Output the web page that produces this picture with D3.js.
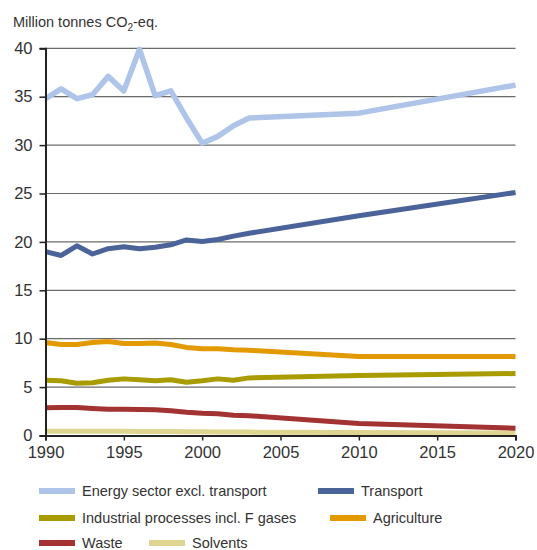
<!DOCTYPE html>
<html><head><meta charset="utf-8">
<script src="https://cdn.jsdelivr.net/npm/d3@7"></script>
<style>body{margin:0;background:#fff;} text{font-family:"Liberation Sans",Arial,sans-serif;fill:#333;}</style>
</head><body><svg id="c" width="537" height="550"></svg>
<script>
const years = [1990,1991,1992,1993,1994,1995,1996,1997,1998,1999,2000,2001,2002,2003,2010,2020];
const energy      = [34.8,35.8,34.8,35.2,37.1,35.6,39.9,35.1,35.6,32.8,30.2,30.9,32.0,32.8,33.3,36.2];
const transport   = [19.0,18.6,19.6,18.75,19.3,19.5,19.3,19.45,19.7,20.2,20.05,20.25,20.6,20.9,22.7,25.1];
const industrial  = [5.7,5.65,5.4,5.45,5.7,5.85,5.75,5.65,5.75,5.5,5.65,5.85,5.7,5.95,6.2,6.4];
const agriculture = [9.6,9.4,9.4,9.6,9.7,9.5,9.5,9.55,9.4,9.1,8.95,8.95,8.85,8.8,8.15,8.15];
const waste       = [2.87,2.9,2.9,2.8,2.7,2.7,2.68,2.65,2.55,2.4,2.3,2.25,2.1,2.05,1.25,0.75];
const solvents    = [0.45,0.45,0.45,0.44,0.43,0.43,0.42,0.42,0.41,0.4,0.38,0.37,0.36,0.35,0.3,0.25];
const seriesNames = ["Energy sector excl. transport","Transport","Industrial processes incl. F gases","Agriculture","Waste","Solvents"];
const seriesColors = ["#aec4e8","#4a6399","#a89c00","#e29a00","#a33232","#ded690"];
const yTicks = [0,5,10,15,20,25,30,35,40];
const xTicks = [1990,1995,2000,2005,2010,2015,2020];
const yLabel = "Million tonnes CO";

const seriesData = [energy,transport,industrial,agriculture,waste,solvents];
const svg = d3.select("#c");
const x = d3.scaleLinear().domain([1990,2020]).range([45.5,515.5]);
const y = d3.scaleLinear().domain([0,40]).range([435.5,48.3]);

// gridlines
svg.append("g").selectAll("line").data(yTicks.filter(d=>d>0)).join("line")
  .attr("x1",x(1990)).attr("x2",x(2020)).attr("y1",d=>y(d)).attr("y2",d=>y(d))
  .attr("stroke","#6a6a6a").attr("stroke-width",1.2);

const line = d3.line().x((d,i)=>x(years[i])).y(d=>y(d));
const order = [5,4,2,3,1,0];
svg.append("g").selectAll("path").data(order).join("path")
  .attr("d",i=>line(seriesData[i])).attr("fill","none")
  .attr("stroke",i=>seriesColors[i]).attr("stroke-width",i=>i===0?5.5:5)
  .attr("stroke-linejoin","round");

// axes
const yAxis = svg.append("g").attr("transform",`translate(${x(1990)},0)`)
  .call(d3.axisLeft(y).tickValues(yTicks).tickSize(6).tickPadding(7));
yAxis.select(".domain").attr("stroke","#222").attr("stroke-width",2);
yAxis.selectAll(".tick line").attr("stroke","#222").attr("stroke-width",1.5);
yAxis.selectAll("text").attr("font-size",16.5).attr("fill","#333").attr("font-family","Liberation Sans, Arial, sans-serif");

const xAxis = svg.append("g").attr("transform",`translate(0,${y(0)})`)
  .call(d3.axisBottom(x).tickValues(xTicks).tickFormat(d3.format("d")).tickSize(5).tickPadding(6));
xAxis.select(".domain").attr("stroke","#222").attr("stroke-width",2);
xAxis.selectAll(".tick line").attr("stroke","#222").attr("stroke-width",1.5);
xAxis.selectAll("text").attr("font-size",16.5).attr("fill","#333").attr("font-family","Liberation Sans, Arial, sans-serif");

// title
const t = svg.append("text").attr("x",13).attr("y",27).attr("font-size",14.5);
t.append("tspan").text(yLabel);
t.append("tspan").attr("font-size",10).attr("dy",4).text("2");
t.append("tspan").attr("dy",-4).text("-eq.");

// legend
const legendPos = [[39,491],[318,491],[39,518],[330,518],[39,543],[149,543]];
const lg = svg.append("g").selectAll("g").data(seriesNames).join("g")
  .attr("transform",(d,i)=>`translate(${legendPos[i][0]},${legendPos[i][1]})`);
lg.append("rect").attr("x",0).attr("y",-3).attr("width",36).attr("height",6).attr("fill",(d,i)=>seriesColors[i]);
lg.append("text").attr("x",43).attr("y",5).attr("font-size",14.5).text(d=>d);
</script></body></html>
